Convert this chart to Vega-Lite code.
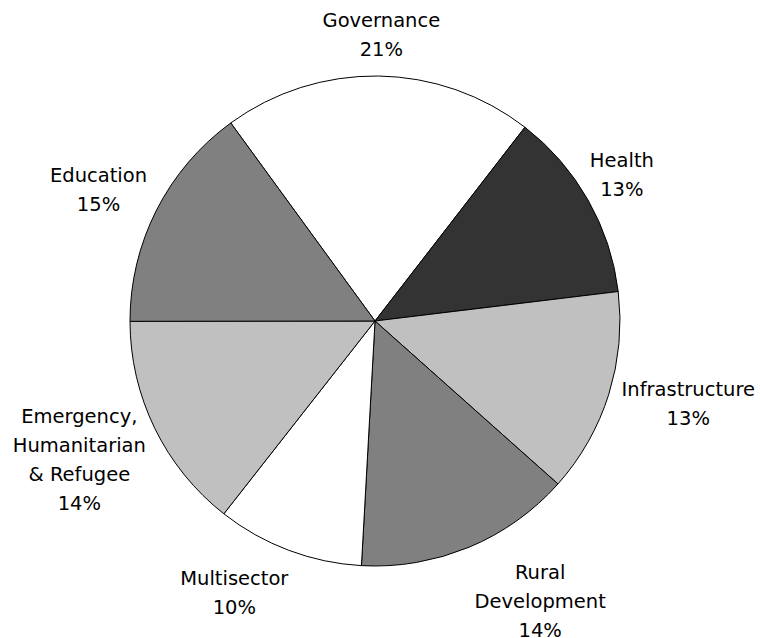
{
  "$schema": "https://vega.github.io/schema/vega-lite/v6.json",
  "width": 750,
  "height": 634,
  "autosize": {"type": "none"},
  "padding": {"left": 0, "right": 10, "top": 4, "bottom": 0},
  "background": "white",
  "config": {"view": {"stroke": null}},
  "data": {
    "values": [
      {"order": 1, "category": "Governance", "label": "Governance\n21%", "value": 20.5},
      {"order": 2, "category": "Health", "label": "Health\n13%", "value": 12.6},
      {"order": 3, "category": "Infrastructure", "label": "Infrastructure\n13%", "value": 13.5},
      {"order": 4, "category": "Rural Development", "label": "Rural\nDevelopment\n14%", "value": 14.3},
      {"order": 5, "category": "Multisector", "label": "Multisector\n10%", "value": 9.7},
      {"order": 6, "category": "Emergency, Humanitarian & Refugee", "label": "Emergency,\nHumanitarian\n& Refugee\n14%", "value": 14.4},
      {"order": 7, "category": "Education", "label": "Education\n15%", "value": 15.0}
    ]
  },
  "transform": [
    {"stack": "value", "groupby": [], "sort": [{"field": "order", "order": "ascending"}], "as": ["v0", "v1"]},
    {"calculate": "(datum.v0 + datum.v1) / 2", "as": "mid"}
  ],
  "layer": [
    {
      "mark": {"type": "arc", "radius": 245, "stroke": "black", "strokeWidth": 1},
      "encoding": {
        "theta": {"field": "v0", "type": "quantitative", "stack": null, "scale": {"domain": [0, 100], "range": [-0.62954, 5.65364]}},
        "theta2": {"field": "v1"},
        "color": {
          "field": "category", "type": "nominal", "legend": null,
          "scale": {
            "domain": ["Governance", "Health", "Infrastructure", "Rural Development", "Multisector", "Emergency, Humanitarian & Refugee", "Education"],
            "range": ["#ffffff", "#333333", "#c0c0c0", "#808080", "#ffffff", "#c0c0c0", "#808080"]
          }
        }
      }
    },
    {
      "transform": [{"filter": "datum.category === 'Governance'"}],
      "mark": {"type": "text", "radius": 300, "dx": 2, "dy": 0, "font": "DejaVu Sans", "fontSize": 19.5, "lineHeight": 29, "lineBreak": "\n", "align": "center", "baseline": "middle", "color": "#000000"},
      "encoding": {"theta": {"field": "mid", "type": "quantitative", "stack": null}, "text": {"field": "label"}}
    },
    {
      "transform": [{"filter": "datum.category === 'Health'"}],
      "mark": {"type": "text", "radius": 300, "dx": -14, "dy": -12, "font": "DejaVu Sans", "fontSize": 19.5, "lineHeight": 29, "lineBreak": "\n", "align": "center", "baseline": "middle", "color": "#000000"},
      "encoding": {"theta": {"field": "mid", "type": "quantitative", "stack": null}, "text": {"field": "label"}}
    },
    {
      "transform": [{"filter": "datum.category === 'Infrastructure'"}],
      "mark": {"type": "text", "radius": 300, "dx": 27, "dy": -21, "font": "DejaVu Sans", "fontSize": 19.5, "lineHeight": 29, "lineBreak": "\n", "align": "center", "baseline": "middle", "color": "#000000"},
      "encoding": {"theta": {"field": "mid", "type": "quantitative", "stack": null}, "text": {"field": "label"}}
    },
    {
      "transform": [{"filter": "datum.category === 'Rural Development'"}],
      "mark": {"type": "text", "radius": 300, "dx": 50, "dy": -25, "font": "DejaVu Sans", "fontSize": 19.5, "lineHeight": 29, "lineBreak": "\n", "align": "center", "baseline": "middle", "color": "#000000"},
      "encoding": {"theta": {"field": "mid", "type": "quantitative", "stack": null}, "text": {"field": "label"}}
    },
    {
      "transform": [{"filter": "datum.category === 'Multisector'"}],
      "mark": {"type": "text", "radius": 300, "dx": -35, "dy": -23, "font": "DejaVu Sans", "fontSize": 19.5, "lineHeight": 29, "lineBreak": "\n", "align": "center", "baseline": "middle", "color": "#000000"},
      "encoding": {"theta": {"field": "mid", "type": "quantitative", "stack": null}, "text": {"field": "label"}}
    },
    {
      "transform": [{"filter": "datum.category === 'Emergency, Humanitarian & Refugee'"}],
      "mark": {"type": "text", "radius": 300, "dx": -26, "dy": -35, "font": "DejaVu Sans", "fontSize": 19.5, "lineHeight": 29, "lineBreak": "\n", "align": "center", "baseline": "middle", "color": "#000000"},
      "encoding": {"theta": {"field": "mid", "type": "quantitative", "stack": null}, "text": {"field": "label"}}
    },
    {
      "transform": [{"filter": "datum.category === 'Education'"}],
      "mark": {"type": "text", "radius": 300, "dx": -9, "dy": -9, "font": "DejaVu Sans", "fontSize": 19.5, "lineHeight": 29, "lineBreak": "\n", "align": "center", "baseline": "middle", "color": "#000000"},
      "encoding": {"theta": {"field": "mid", "type": "quantitative", "stack": null}, "text": {"field": "label"}}
    }
  ]
}
